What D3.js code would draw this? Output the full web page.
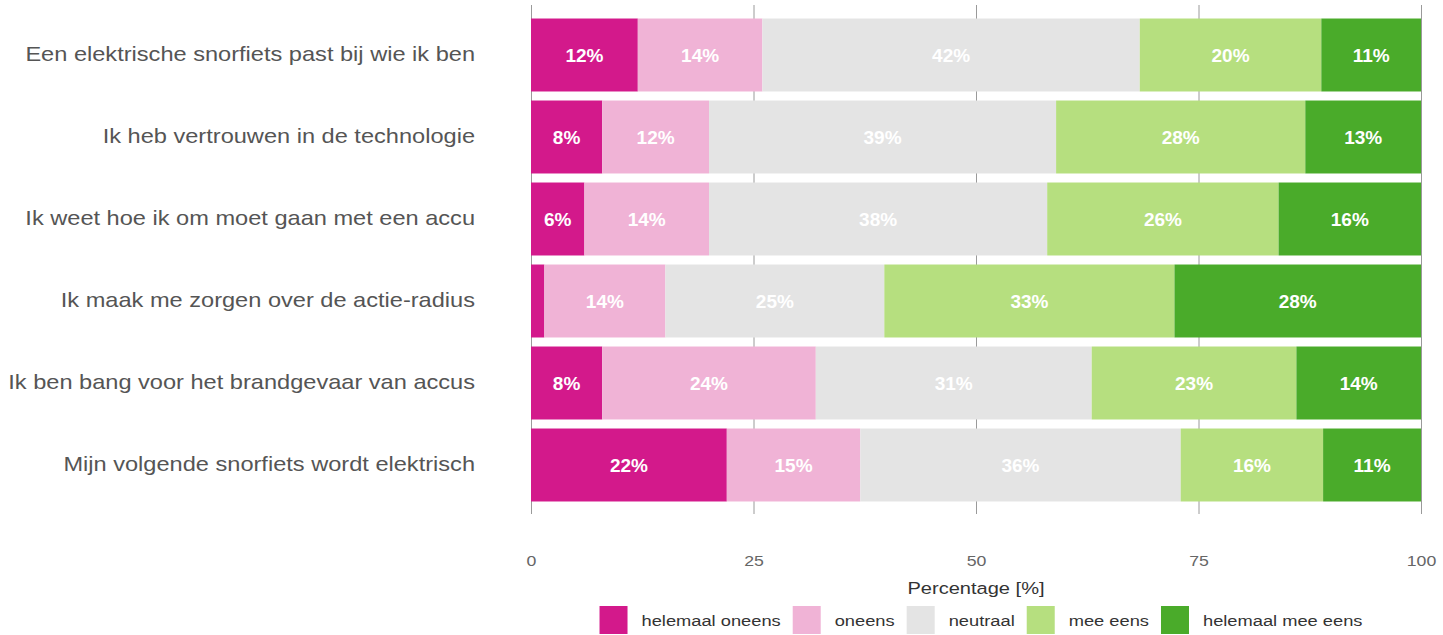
<!DOCTYPE html>
<html>
<head>
<meta charset="utf-8">
<script src="https://cdn.jsdelivr.net/npm/d3@7"></script>
<style>
  body { margin: 0; background: #fff; }
  svg { display: block; font-family: "Liberation Sans", Arial, sans-serif; }
</style>
</head>
<body>
<svg id="chart" width="1443" height="635"></svg>
<script>
// Survey statements (one bar each, top to bottom)
const statements = [
  "Een elektrische snorfiets past bij wie ik ben",
  "Ik heb vertrouwen in de technologie",
  "Ik weet hoe ik om moet gaan met een accu",
  "Ik maak me zorgen over de actie-radius",
  "Ik ben bang voor het brandgevaar van accus",
  "Mijn volgende snorfiets wordt elektrisch"
];

// Answer categories, from strongly disagree to strongly agree
const responses = ["helemaal oneens", "oneens", "neutraal", "mee eens", "helemaal mee eens"];

// Share of respondents per answer (percent), one value per statement
const helemaalOneens  = [12.0,  8,  6,  1.5,  8, 22];
const oneens          = [14.0, 12, 14, 13.6, 24, 15];
const neutraal        = [42.4, 39, 38, 24.6, 31, 36];
const meeEens         = [20.4, 28, 26, 32.6, 23, 16];
const helemaalMeeEens = [11.2, 13, 16, 27.7, 14, 11];

const xTicks = [0, 25, 50, 75, 100];
const xTitle = "Percentage [%]";

const colors = ["#d3198b", "#f0b3d6", "#e4e4e4", "#b6df7f", "#4aab2a"];

// Build the table d3.stack expects
const series = [helemaalOneens, oneens, neutraal, meeEens, helemaalMeeEens];
const table = statements.map((s, i) => {
  const row = { statement: s };
  responses.forEach((r, k) => { row[r] = series[k][i]; });
  return row;
});

const svg = d3.select("#chart");
const SX = 1.18; // horizontal stretch of the grey label text

function stretch(sel, sx) {
  sel.each(function () {
    const t = d3.select(this);
    const x = +t.attr("x") || 0;
    t.attr("x", x / sx).attr("transform", `scale(${sx},1)`);
  });
}

const x = d3.scaleLinear().domain([0, 100]).range([531, 1421]);
const y = d3.scaleBand().domain(statements).range([14, 506])
  .paddingInner(0.11).paddingOuter(0.055);

const color = d3.scaleOrdinal().domain(responses).range(colors);

// Vertical grid lines behind the bars
svg.append("g").selectAll("line").data(xTicks).join("line")
  .attr("x1", d => x(d) + 0.5).attr("x2", d => x(d) + 0.5)
  .attr("y1", 5).attr("y2", 514)
  .attr("stroke", "#9a9a9a").attr("stroke-width", 1);

const stacked = d3.stack().keys(responses)(table);

const layers = svg.append("g").selectAll("g").data(stacked).join("g")
  .attr("fill", d => color(d.key));

layers.selectAll("rect").data(d => d).join("rect")
  .attr("x", d => x(d[0]))
  .attr("width", d => x(d[1]) - x(d[0]))
  .attr("y", d => y(d.data.statement))
  .attr("height", y.bandwidth());

// Value labels inside the segments
const fmt = d3.format(".0f");
layers.selectAll("text").data(d => d.filter(p => p[1] - p[0] >= 3)).join("text")
  .attr("x", d => (x(d[0]) + x(d[1])) / 2)
  .attr("y", d => y(d.data.statement) + y.bandwidth() / 2)
  .attr("dy", "0.36em")
  .attr("text-anchor", "middle")
  .attr("fill", "#ffffff")
  .attr("font-weight", "bold")
  .attr("font-size", 19)
  .text(d => fmt(d[1] - d[0]) + "%");

// Statement labels
const yAxis = svg.append("g").attr("transform", `translate(${x(0)},0)`)
  .call(d3.axisLeft(y).tickSize(0).tickPadding(56));
yAxis.select(".domain").remove();
yAxis.selectAll("text")
  .attr("font-size", 20)
  .attr("font-family", "Liberation Sans, Arial, sans-serif")
  .attr("fill", "#555")
  .call(stretch, SX);

// Percentage axis
const xAxis = svg.append("g").attr("transform", "translate(0,514)")
  .call(d3.axisBottom(x).tickValues(xTicks).tickSize(0).tickPadding(0));
xAxis.select(".domain").remove();
xAxis.selectAll("text")
  .attr("y", 47)
  .attr("dy", "0.36em")
  .attr("font-size", 15)
  .attr("font-family", "Liberation Sans, Arial, sans-serif")
  .attr("fill", "#666")
  .call(stretch, SX);

svg.append("text")
  .attr("x", (x(0) + x(100)) / 2)
  .attr("y", 588)
  .attr("dy", "0.36em")
  .attr("text-anchor", "middle")
  .attr("font-size", 17)
  .attr("fill", "#333")
  .text(xTitle)
  .call(stretch, SX);

// Legend
const legend = svg.append("g");
const items = legend.selectAll("g").data(responses).join("g");
items.append("rect")
  .attr("width", 28).attr("height", 28)
  .attr("y", 606)
  .attr("fill", d => color(d));
items.append("text")
  .attr("x", 42)
  .attr("y", 620)
  .attr("dy", "0.36em")
  .attr("font-size", 15.5)
  .attr("fill", "#333")
  .text(d => d)
  .call(stretch, SX);

let cursor = 0;
const offsets = [];
items.each(function () {
  const w = d3.select(this).select("text").node().getComputedTextLength() * SX;
  offsets.push(cursor);
  cursor += 42 + w + 12;
});
const total = cursor - 12;
const start = (x(0) + x(100)) / 2 + 5 - total / 2;
items.attr("transform", (d, i) => `translate(${start + offsets[i]},0)`);
</script>
</body>
</html>
